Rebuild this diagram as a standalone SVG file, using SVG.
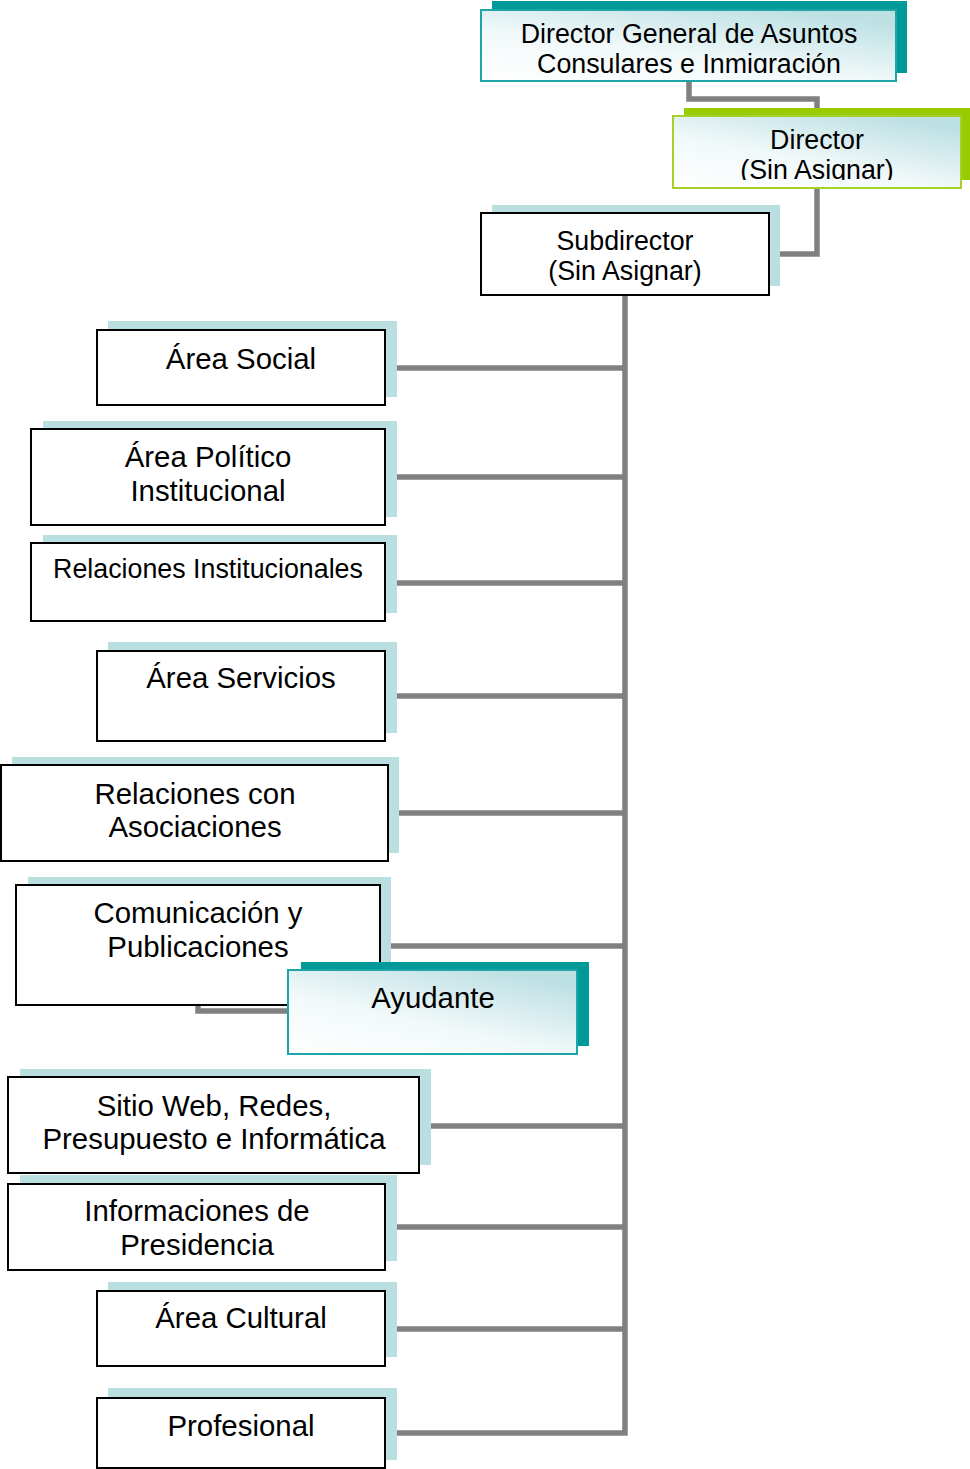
<svg xmlns="http://www.w3.org/2000/svg" width="970" height="1469" viewBox="0 0 970 1469">
<style>
  .sh { fill: #b9dfe1; }
  .box { fill: #ffffff; stroke: #000000; stroke-width: 2; }
  .gbox { fill: url(#grad); stroke: #1fa5a5; stroke-width: 2; }
  .grbox { fill: url(#grad); stroke: #a6d02a; stroke-width: 2; }
  .teal { fill: #009999; }
  .green { fill: #99cc00; }
  .t { font-family: "Liberation Sans", Arial, sans-serif; font-size: 29.4px; fill: #000; text-anchor: middle; }
  .s { font-size: 26.8px; }
  .con { fill: none; stroke: #808080; stroke-width: 5.5; stroke-linejoin: miter; }
</style>
<defs>
  <linearGradient id="grad" x1="0" y1="1" x2="0.75" y2="0">
    <stop offset="0" stop-color="#ffffff"/>
    <stop offset="0.45" stop-color="#f2f9fa"/>
    <stop offset="1" stop-color="#bde0e3"/>
  </linearGradient>
  <clipPath id="clipDG"><rect x="481" y="10" width="415" height="63"/></clipPath>
  <clipPath id="clipDir"><rect x="673" y="116" width="288" height="64"/></clipPath>
</defs>
<rect width="970" height="1469" fill="#ffffff"/>

<g id="connectors">
  <path class="con" d="M689,81 V99 H817 V110"/>
  <path class="con" d="M817,188 V254 H778"/>
  <path class="con" d="M625,295 V1433 H396"/>
  <path class="con" d="M396,368 H625"/>
  <path class="con" d="M396,477 H625"/>
  <path class="con" d="M396,583 H625"/>
  <path class="con" d="M396,696 H625"/>
  <path class="con" d="M398,813 H625"/>
  <path class="con" d="M390,946 H625"/>
  <path class="con" d="M198,1005 V1011 H292"/>
  <path class="con" d="M430,1126 H625"/>
  <path class="con" d="M396,1227 H625"/>
  <path class="con" d="M396,1329 H625"/>
</g>

<g id="node-dg">
  <rect class="teal" x="492" y="1" width="415" height="72"/>
  <rect class="gbox" x="481" y="10" width="415" height="71"/>
  <g clip-path="url(#clipDG)">
    <text class="t s" x="689" y="43">Director General de Asuntos</text>
    <text class="t s" x="689" y="73">Consulares e Inmigración</text>
  </g>
</g>

<g id="node-director">
  <rect class="green" x="684" y="108" width="286" height="72"/>
  <rect class="grbox" x="673" y="116" width="288" height="72"/>
  <g clip-path="url(#clipDir)">
    <text class="t s" x="817" y="149">Director</text>
    <text class="t s" x="817" y="179">(Sin Asignar)</text>
  </g>
</g>

<g id="node-subdirector">
  <rect class="sh" x="492" y="205" width="288" height="81"/>
  <rect class="box" x="481" y="213" width="288" height="82"/>
  <text class="t s" x="625" y="250">Subdirector</text>
  <text class="t s" x="625" y="280">(Sin Asignar)</text>
</g>

<g id="node-area-social">
  <rect class="sh" x="108" y="321" width="289" height="76"/>
  <rect class="box" x="97" y="330" width="288" height="75"/>
  <text class="t" x="241" y="369">Área Social</text>
</g>

<g id="node-area-politico">
  <rect class="sh" x="43" y="421" width="354" height="96"/>
  <rect class="box" x="31" y="429" width="354" height="96"/>
  <text class="t" x="208" y="467">Área Político</text>
  <text class="t" x="208" y="501">Institucional</text>
</g>

<g id="node-relaciones-inst">
  <rect class="sh" x="43" y="535" width="354" height="78"/>
  <rect class="box" x="31" y="543" width="354" height="78"/>
  <text class="t s" x="208" y="578">Relaciones Institucionales</text>
</g>

<g id="node-area-servicios">
  <rect class="sh" x="108" y="642" width="289" height="91"/>
  <rect class="box" x="97" y="651" width="288" height="90"/>
  <text class="t" x="241" y="688">Área Servicios</text>
</g>

<g id="node-relaciones-asoc">
  <rect class="sh" x="12" y="757" width="387" height="96"/>
  <rect class="box" x="1" y="765" width="387" height="96"/>
  <text class="t" x="195" y="804">Relaciones con</text>
  <text class="t" x="195" y="837">Asociaciones</text>
</g>

<g id="node-comunicacion">
  <rect class="sh" x="28" y="877" width="363" height="120"/>
  <rect class="box" x="16" y="885" width="364" height="120"/>
  <text class="t" x="198" y="923">Comunicación y</text>
  <text class="t" x="198" y="957">Publicaciones</text>
</g>

<g id="node-ayudante">
  <rect class="teal" x="301" y="962" width="288" height="84"/>
  <rect class="gbox" x="288" y="970" width="289" height="84"/>
  <text class="t" x="433" y="1008">Ayudante</text>
</g>

<g id="node-sitio-web">
  <rect class="sh" x="20" y="1069" width="411" height="96"/>
  <rect class="box" x="8" y="1077" width="411" height="96"/>
  <text class="t" x="214" y="1116">Sitio Web, Redes,</text>
  <text class="t" x="214" y="1149">Presupuesto e Informática</text>
</g>

<g id="node-informaciones">
  <rect class="sh" x="20" y="1175" width="377" height="86"/>
  <rect class="box" x="8" y="1184" width="377" height="86"/>
  <text class="t" x="197" y="1221">Informaciones de</text>
  <text class="t" x="197" y="1255">Presidencia</text>
</g>

<g id="node-area-cultural">
  <rect class="sh" x="108" y="1282" width="289" height="75"/>
  <rect class="box" x="97" y="1291" width="288" height="75"/>
  <text class="t" x="241" y="1328">Área Cultural</text>
</g>

<g id="node-profesional">
  <rect class="sh" x="108" y="1388" width="289" height="72"/>
  <rect class="box" x="97" y="1398" width="288" height="70"/>
  <text class="t" x="241" y="1436">Profesional</text>
</g>
</svg>
